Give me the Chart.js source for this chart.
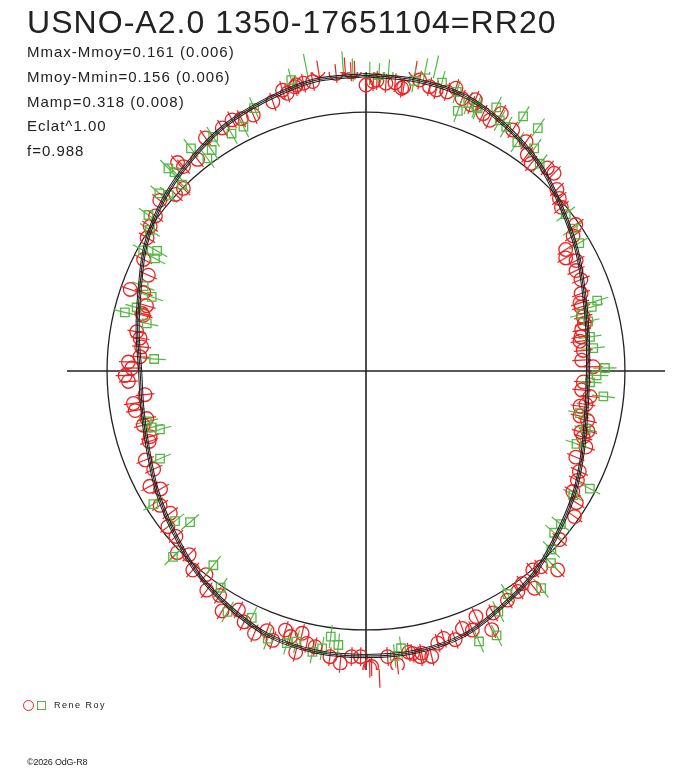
<!DOCTYPE html>
<html>
<head>
<meta charset="utf-8">
<title>RR20</title>
<script src="https://cdn.jsdelivr.net/npm/chart.js@4.4.1/dist/chart.umd.min.js"></script>
<style>
  body { margin: 0; background: #fff; }
  #wrap { position: relative; width: 688px; height: 768px; font-family: "Liberation Sans", Arial, sans-serif; color: #222; }
  #wrap canvas { position: absolute; left: 0; top: 0; }
  .txt { position: absolute; line-height: 1; white-space: nowrap; }
  .title { left: 27px; top: 6px; font-size: 32px; letter-spacing: 1.05px; }
  .stat { left: 27px; font-size: 15px; letter-spacing: 1px; }
  .legend { left: 23px; top: 700px; font-size: 9px; letter-spacing: 1.5px; display: flex; align-items: center; }
  .legend .c { width: 11px; height: 11px; border: 1px solid #ee2222; border-radius: 50%; box-sizing: border-box; }
  .legend .s { width: 9px; height: 9px; border: 1px solid #55b845; box-sizing: border-box; margin-left: 3px; margin-right: 8px; }
  .copy { left: 27px; top: 758px; font-size: 9px; letter-spacing: -0.2px; }
</style>
</head>
<body>
<div id="wrap">
  <canvas id="grafico" width="688" height="768"></canvas>
  <div class="txt title" id="titulo"></div>
  <div id="stats"></div>
  <div class="txt legend"><span class="c"></span><span class="s"></span><span id="legendaNome"></span></div>
  <div class="txt copy">©2026 OdG-R8</div>
</div>
<script>
// Dados (fase 0..1, magnitude em relação à média)
const titulo = 'USNO-A2.0 1350-17651104=RR20';
const statLines = ['Mmax-Mmoy=0.161 (0.006)', 'Mmoy-Mmin=0.156 (0.006)', 'Mamp=0.318 (0.008)', 'Eclat^1.00', 'f=0.988'];
const observador = 'Rene Roy';

const redPhase = [0.975,0.984,0.989,0.994,0.000,0.006,0.011,0.016,0.021,0.026,0.029,0.035,0.039,0.045,0.049,0.054,0.060,0.956,0.961,0.966,0.971,0.992,0.004,0.020,
  0.061,0.068,0.073,0.077,0.087,0.097,0.102,0.107,0.116,0.121,0.129,0.134,0.139,0.153,0.158,0.163,0.168,0.173,0.179,0.186,0.195,0.204,0.216,0.225,
  0.201,0.211,0.220,0.228,0.235,0.242,0.247,0.258,0.264,0.268,0.276,0.283,0.292,0.297,
  0.274,0.285,0.294,0.303,0.312,0.320,0.326,0.334,0.339,0.347,0.364,0.378,0.389,0.384,0.395,0.399,0.404,0.412,0.423,0.428,0.433,0.438,0.443,0.449,0.455,0.459,0.464,0.469,0.474,0.483,0.488,0.497,
  0.548,0.538,0.534,0.529,0.520,0.514,0.508,0.503,0.498,0.493,0.476,0.470,
  0.700,0.689,0.681,0.672,0.667,0.658,0.650,0.644,0.636,0.628,0.622,0.614,0.606,0.600,0.592,0.586,0.578,0.572,0.564,0.558,0.553,0.544,0.539,
  0.789,0.777,0.773,0.767,0.760,0.756,0.752,0.747,0.743,0.733,0.728,0.723,0.716,0.712,0.703,
  0.962,0.954,0.947,0.934,0.927,0.922,0.915,0.904,0.893,0.884,0.883,0.875,0.869,0.860,0.851,0.844,0.837,0.824,0.816,0.803,0.804,0.796,0.790];
const redMag = [0.204,0.178,0.204,0.187,0.120,0.142,0.131,0.137,0.123,0.204,0.164,0.144,0.137,0.141,0.168,0.133,0.121,0.132,0.151,0.158,0.157,0.181,0.136,0.116,
  0.149,0.106,0.092,0.142,0.103,0.092,0.048,0.028,0.059,0.062,0.020,0.001,-0.018,-0.014,-0.052,-0.112,-0.131,-0.096,-0.116,-0.113,-0.135,-0.154,-0.158,-0.184,
  -0.153,-0.156,-0.175,-0.191,-0.181,-0.191,-0.141,-0.184,-0.189,-0.149,-0.187,-0.179,-0.129,-0.142,
  -0.162,-0.142,-0.158,-0.117,-0.143,-0.103,-0.093,-0.087,-0.048,-0.021,-0.010,0.077,0.003,0.016,0.071,0.022,0.039,0.046,0.064,0.127,0.045,0.094,0.071,0.107,0.087,0.100,0.151,0.127,0.121,0.163,0.122,0.163,
  0.055,0.049,0.088,0.095,0.129,0.153,0.120,0.119,0.170,0.216,0.113,0.142,
  -0.138,-0.093,-0.111,-0.062,-0.098,-0.058,-0.076,-0.031,-0.031,0.013,-0.018,0.022,0.000,0.053,0.040,0.093,0.053,0.089,0.116,0.084,0.116,0.076,0.138,
  -0.131,-0.117,-0.136,-0.148,-0.144,-0.094,-0.110,-0.080,-0.094,-0.163,-0.107,-0.110,-0.154,-0.132,-0.148,
  0.157,0.151,0.115,0.092,0.100,0.114,0.104,0.107,0.051,0.067,0.098,-0.003,0.003,0.039,0.011,0.004,-0.012,-0.045,-0.094,-0.042,-0.103,-0.133,-0.124];

const greenPhase = [0.969,0.960,0.988,0.993,0.002,0.007,0.012,0.026,0.031,0.036,0.041,0.050,0.054,0.058,0.063,
  0.164,0.154,0.144,0.111,0.103,0.098,0.088,0.093,0.083,0.078,0.073,0.064,
  0.203,0.206,0.209,0.215,0.226,0.234,0.248,0.253,0.258,0.267,0.281,0.291,
  0.303,0.327,0.336,0.356,0.363,0.372,0.378,0.392,0.410,0.420,0.427,0.437,0.480,0.484,
  0.521,0.516,0.530,0.525,0.540,0.545,
  0.686,0.661,0.637,0.644,0.628,0.606,0.594,0.583,0.569,0.556,
  0.788,0.793,0.784,0.759,0.714,0.709,0.706,
  0.936,0.926,0.918,0.908,0.903,0.894,0.898,0.877,0.878,0.876,0.866,0.863,0.849,0.842,0.829,0.833,0.828,0.808,0.803];
const greenMag = [0.234,0.184,0.222,0.188,0.172,0.166,0.186,0.156,0.213,0.236,0.175,0.154,0.075,0.124,0.122,
  -0.046,-0.035,-0.022,0.051,0.089,0.171,0.179,0.068,0.100,0.112,0.156,0.117,
  -0.077,-0.108,-0.161,-0.139,-0.144,-0.136,-0.089,-0.126,-0.154,-0.090,-0.182,-0.141,
  -0.161,-0.027,-0.077,-0.049,-0.048,-0.007,0.034,0.089,0.023,0.070,0.160,0.152,0.091,0.122,
  0.040,0.073,0.120,0.097,0.091,0.109,
  -0.156,-0.036,-0.120,-0.071,0.040,-0.053,0.009,0.084,0.058,0.116,
  -0.048,-0.093,-0.154,-0.208,-0.151,-0.167,-0.199,
  0.119,0.064,0.062,0.092,0.047,0.108,0.028,0.107,0.076,0.013,0.025,0.060,0.039,-0.004,-0.025,-0.080,-0.088,-0.093,-0.143];

// curva ajustada
const fitPhase = [0.000,0.028,0.056,0.083,0.111,0.139,0.167,0.194,0.222,0.250,0.278,0.306,0.333,0.361,0.389,0.417,0.444,0.472,
  0.500,0.528,0.556,0.583,0.611,0.639,0.667,0.694,0.722,0.750,0.778,0.806,0.833,0.861,0.889,0.917,0.944,0.972,1.000];
const fitMag = [0.164,0.160,0.147,0.102,0.049,-0.018,-0.071,-0.120,-0.151,-0.164,-0.156,-0.124,-0.080,-0.036,0.018,0.058,0.102,0.116,
  0.116,0.116,0.102,0.062,0.018,-0.036,-0.080,-0.120,-0.142,-0.147,-0.120,-0.080,-0.022,0.027,0.067,0.107,0.133,0.160,0.164];

const redErr = 0.042;
const greenErr = 0.052;
const fitSpread = 0.007;
const refRadius = 1.151;   // raio do círculo de referência (mag)
const axisLen = 1.329;

// Textos
document.getElementById('titulo').textContent = titulo;
document.getElementById('legendaNome').textContent = observador;
const statsEl = document.getElementById('stats');
statLines.forEach((linha, i) => {
    const d = document.createElement('div');
    d.className = 'txt stat';
    d.style.top = (44 + i * 24.75) + 'px';
    d.textContent = linha;
    statsEl.appendChild(d);
});

// fase/mag -> plano
function toXY(fase, mag) {
    const a = fase * 2 * Math.PI;
    const r = refRadius + mag;
    return { x: r * Math.sin(a), y: r * Math.cos(a) };
}
function serie(fases, mags, delta) {
    return fases.map((f, i) => toXY(f, mags[i] + (delta || 0)));
}

const polarFrame = {
    id: 'polarFrame',
    beforeDatasetsDraw(chart) {
        const { ctx, scales: { x, y } } = chart;
        const cx = x.getPixelForValue(0), cy = y.getPixelForValue(0);
        ctx.save();
        ctx.strokeStyle = '#222';
        ctx.lineWidth = 1.6;
        ctx.beginPath();
        ctx.moveTo(x.getPixelForValue(-axisLen), cy);
        ctx.lineTo(x.getPixelForValue(axisLen), cy);
        ctx.moveTo(cx, y.getPixelForValue(axisLen));
        ctx.lineTo(cx, y.getPixelForValue(-axisLen));
        ctx.stroke();
        ctx.lineWidth = 1.3;
        ctx.beginPath();
        ctx.arc(cx, cy, x.getPixelForValue(refRadius) - cx, 0, 2 * Math.PI);
        ctx.stroke();

        // barras de erro radiais
        const barras = [[redPhase, redMag, redErr, '#ee2222'], [greenPhase, greenMag, greenErr, '#55b845']];
        ctx.lineWidth = 1.2;
        barras.forEach(([fases, mags, err, cor]) => {
            ctx.strokeStyle = cor;
            ctx.beginPath();
            fases.forEach((f, i) => {
                const a = toXY(f, mags[i] - err), b = toXY(f, mags[i] + err);
                ctx.moveTo(x.getPixelForValue(a.x), y.getPixelForValue(a.y));
                ctx.lineTo(x.getPixelForValue(b.x), y.getPixelForValue(b.y));
            });
            ctx.stroke();
        });
        ctx.restore();
    }
};

const linhaFit = (delta) => ({
    data: serie(fitPhase, fitMag, delta),
    showLine: true,
    borderColor: '#222',
    borderWidth: 1.05,
    pointRadius: 0,
    tension: 0.35,
    order: 0
});

const ctx = document.getElementById('grafico').getContext('2d');
const grafico = new Chart(ctx, {
    type: 'scatter',
    data: {
        datasets: [
            linhaFit(0), linhaFit(fitSpread), linhaFit(-fitSpread),
            {
                label: observador,
                data: serie(redPhase, redMag),
                pointStyle: 'circle',
                pointRadius: 6.8,
                borderColor: '#ee2222',
                backgroundColor: 'rgba(0,0,0,0)',
                borderWidth: 1.3,
                order: 2
            },
            {
                label: observador,
                data: serie(greenPhase, greenMag),
                pointStyle: 'rect',
                pointRadius: 6,
                borderColor: '#55b845',
                backgroundColor: 'rgba(0,0,0,0)',
                borderWidth: 1.3,
                order: 1
            }
        ]
    },
    options: {
        responsive: false,
        animation: false,
        events: [],
        layout: { padding: { left: 67, right: 23, top: 72, bottom: 98 } },
        scales: {
            x: { type: 'linear', min: -axisLen, max: axisLen, display: false },
            y: { type: 'linear', min: -axisLen, max: axisLen, display: false }
        },
        plugins: {
            legend: { display: false },
            tooltip: { enabled: false }
        }
    },
    plugins: [polarFrame]
});
</script>
</body>
</html>
